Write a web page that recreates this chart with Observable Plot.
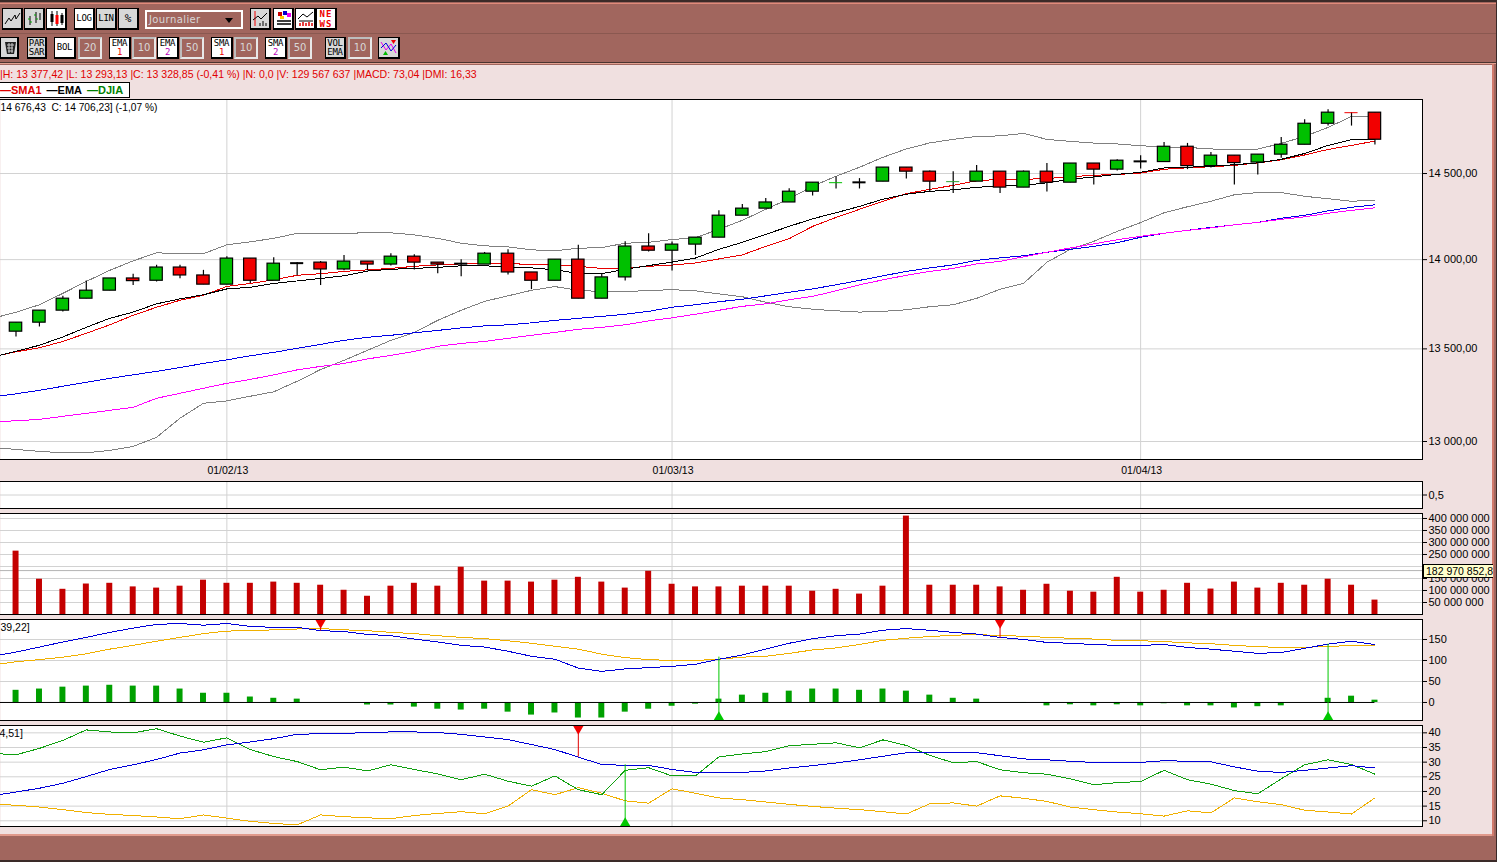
<!DOCTYPE html>
<html><head><meta charset="utf-8">
<script src="https://cdn.jsdelivr.net/npm/d3@7"></script>
<script src="https://cdn.jsdelivr.net/npm/@observablehq/plot@0.6"></script>
<style>
html,body{margin:0;padding:0;background:#f0e0e0;overflow:hidden}
#page{position:relative;width:1497px;height:862px;overflow:hidden;font-family:"Liberation Sans",Arial,sans-serif}
.abs{position:absolute;box-sizing:border-box}
.b{position:absolute;box-sizing:border-box;border:1px solid #000;border-right-width:2px;border-bottom-width:2px;background:#d8d8d8;font:9px/9px "DejaVu Sans Mono",monospace;color:#000;text-align:center;display:flex;flex-direction:column;justify-content:center;align-items:center;letter-spacing:-.3px}
.b.w{background:#fff}
.f{position:absolute;box-sizing:border-box;border:2px solid #bdbdbd;border-right-color:#e8e8e8;border-bottom-color:#e8e8e8;background:#a1665e;color:#d8d8d8;font:10px/18px "DejaVu Sans",sans-serif;text-align:center}
</style></head><body><div id="page"></div>
<script>
// ---- candles (index 0..58)
const opens=[13595,13645,13712,13779,13824,13893,13880,13955,13910,13858,14006,13880,13980,13983,13944,13989,13972,14017,13983,13977,13972,14034,13927,13880,14000,13779,13899,14075,14051,14086,14126,14253,14294,14330,14393,14446,14448,14452,14535,14511,14452,14452,14511,14417,14511,14446,14559,14523,14572,14568,14659,14544,14606,14565,14612,14671,14797,14864,14864];
const closes=[13645,13712,13779,13824,13893,13878,13955,13910,13858,14006,13880,13977,13980,13944,13989,13972,14017,13983,13972,13977,14034,13927,13880,14000,13779,13899,14075,14051,14086,14126,14253,14294,14330,14393,14446,14446,14448,14535,14511,14452,14452,14511,14417,14511,14446,14559,14523,14576,14572,14659,14544,14606,14562,14612,14671,14797,14864,14864,14701];
const highs=[13645,13712,13792,13878,13893,13917,13968,13968,13939,14017,14006,14011,13983,13989,14023,13989,14034,14028,13983,14000,14041,14057,13927,14000,14082,13921,14103,14149,14101,14126,14282,14318,14353,14411,14446,14480,14470,14535,14535,14515,14511,14547,14511,14515,14559,14559,14559,14581,14606,14685,14679,14625,14606,14612,14715,14821,14881,14864,14864];
const lows=[13566,13621,13704,13779,13824,13853,13873,13891,13858,13858,13864,13880,13908,13853,13937,13936,13964,13941,13919,13902,13972,13913,13830,13880,13779,13779,13878,14043,13936,14024,14126,14253,14294,14330,14368,14409,14409,14452,14468,14393,14382,14452,14382,14417,14391,14446,14432,14515,14527,14568,14523,14533,14432,14491,14590,14671,14783,14783,14669];
const flatCandles=[[12,"#000",2],[19,"#000",2],[35,"#00c000",1],[36,"#000",2],[40,"#30a030",1],[48,"#000",2],[57,"#f00000",1]];
// ---- price-panel lines (index -1..58)
const ema=[13454,13487,13520,13566,13619,13669,13704,13750,13778,13801,13834,13843,13865,13879,13893,13908,13935,13945,13950,13956,13965,13965,13958,13953,13942,13922,13920,13945,13966,13986,14009,14059,14099,14145,14191,14235,14270,14307,14349,14378,14395,14404,14419,14426,14430,14445,14466,14480,14495,14507,14533,14537,14543,14552,14563,14584,14619,14667,14701,14701];
const sma1=[13456,13484,13506,13541,13586,13633,13686,13731,13770,13798,13848,13865,13885,13911,13920,13933,13942,13950,13962,13970,13976,13979,13979,13971,13970,13962,13950,13952,13962,13969,13981,14004,14027,14076,14120,14191,14243,14290,14337,14381,14407,14430,14457,14466,14466,14470,14481,14490,14494,14503,14525,14534,14540,14548,14563,14581,14610,14643,14667,14693];
const bollUp=[13669,13703,13745,13809,13876,13939,13993,14039,14034,14034,14085,14102,14122,14151,14149,14151,14154,14154,14142,14122,14094,14079,14073,14056,14051,14065,14069,14094,14099,14115,14126,14174,14226,14290,14352,14425,14484,14537,14596,14646,14682,14703,14721,14724,14739,14703,14691,14681,14676,14665,14658,14655,14646,14641,14645,14679,14721,14775,14841,14845];
const bollLow=[12969,12958,12948,12940,12940,12953,12974,13022,13124,13204,13217,13242,13266,13323,13387,13437,13492,13547,13591,13658,13714,13764,13795,13826,13847,13826,13819,13820,13824,13830,13823,13806,13790,13759,13734,13720,13711,13704,13708,13717,13734,13745,13781,13832,13865,13985,14059,14105,14162,14213,14270,14305,14337,14375,14388,14388,14366,14352,14337,14343];
const ema50=[13238,13255,13274,13296,13317,13339,13358,13377,13398,13420,13440,13462,13481,13503,13525,13547,13564,13575,13589,13602,13616,13627,13633,13644,13658,13669,13680,13692,13708,13731,13745,13762,13776,13795,13815,13834,13857,13882,13908,13933,13953,13970,13996,14010,14022,14042,14059,14076,14097,14128,14151,14168,14185,14200,14214,14238,14255,14281,14302,14316];
const sma50=[13105,13110,13118,13134,13150,13166,13182,13231,13258,13285,13312,13333,13358,13385,13404,13420,13445,13464,13486,13514,13530,13541,13558,13575,13591,13608,13619,13633,13655,13672,13692,13714,13736,13750,13773,13792,13823,13857,13885,13911,13933,13950,13976,13990,14016,14042,14067,14090,14114,14134,14151,14168,14182,14200,14214,14232,14246,14267,14284,14299];
// ---- volume, millions (index 0..58)
const volumes=[264,147,105,127,130,115,110,118,143,130,130,135,130,122,101,76,118,130,118,197,139,139,135,143,155,135,110,180,126,115,115,118,118,118,97,105,85,118,410,122,122,122,115,101,126,97,93,155,93,101,130,106,135,110,130,122,147,122,60];
const volumeMarker=182.97;
// ---- MACD (index -1..58 for the lines, 0..58 for the bars)
const macd=[110,120,132,144,155,167,177,186,188,184,188,181,179,179,171,169,162,159,151,144,136,132,122,110,103,82,74,80,83,86,91,103,113,127,141,152,159,163,172,176,172,167,163,155,150,143,141,138,136,136,138,131,127,122,117,119,129,139,146,138];
const macdSignal=[89,97,102,108,116,127,136,146,155,164,170,171,173,175,176,173,171,167,164,159,155,152,147,141,134,127,115,107,102,100,100,103,108,110,117,125,130,138,148,153,157,160,162,159,158,155,153,151,148,147,145,142,140,136,133,131,131,134,135,136];
const macdHist=[29,32,36.5,39,41,39,39,32,22,22,13,10,8,0,0,-6,-6,-11,-16,-18,-16,-23,-30,-25,-37,-37,-23,-16,-9,-4,8,17.5,22,27,32,32,29,32,27,17.5,10,8,0,-2,-8,-5.5,-8,-5.5,-8,-3,-8,-8,-13,-10,-8,0,10,15,5.5];
// ---- DMI (index -1..58)
const adx=[18.6,19.8,21.1,22.8,25.1,27.5,29.1,30.9,33.1,34.2,35.9,36.9,38.0,39.5,39.7,39.8,40.1,40.3,40.3,40.1,39.5,38.6,37.7,36.0,34.3,31.7,29.2,28.9,28.9,27.5,26.5,26.4,26.5,27.0,28.0,28.8,29.7,30.8,32.0,33.2,33.2,33.2,33.2,32.2,31.1,30.8,30.3,29.9,29.9,29.9,30.5,30.3,30.1,28.4,26.9,26.5,27.2,28.0,28.8,28.0];
const diPlus=[33.0,32.5,34.7,37.4,41.0,40.3,40.0,41.4,38.9,36.8,38.3,34.3,31.9,30.2,27.4,28.3,27.0,29.1,27.5,26.0,24.0,25.9,23.5,21.8,25.3,20.6,18.9,27.2,28.1,25.3,25.3,31.8,32.8,33.6,35.6,36.1,36.6,34.9,37.6,35.7,32.3,29.8,30.2,27.4,26.4,25.9,24.3,22.3,23.0,23.4,27.2,24.0,22.5,20.3,19.2,24.3,29.1,30.8,29.2,25.9];
const diMinus=[15.7,15.3,14.7,13.8,12.8,12.2,11.8,11.3,10.7,12.0,10.9,9.8,9.1,8.6,12.0,11.4,11.0,10.7,11.8,12.5,13.1,12.4,15.0,20.6,18.9,21.3,19.4,16.8,16.0,20.9,19.4,17.8,17.2,16.4,15.6,14.9,14.3,13.8,13.1,12.3,15.8,16.1,15.0,18.5,17.7,16.6,14.7,13.8,13.0,12.4,11.6,13.4,12.7,17.8,16.5,15.5,13.6,13.0,12.3,17.8];
// ---- signals: [index, level where the arrow's stem ends]
const macdSell=[[13,170],[42,153]];
const macdBuy=[[30,108],[56,139]];
const dmiSell=[[24,31.7]];
const dmiBuy=[[26,29.1]];
// ---- ticks and labels
const dateTicks=[9,28,48];
const dateLabels=["01/02/13","01/03/13","01/04/13"];
const priceTicks=[13000,13500,14000,14500];
const volumeTicks=[50,100,150,200,250,300,350,400];
const volumeLabels=[50,100,150,250,300,350,400];
const macdTicks=[0,50,100,150];
const dmiTicks=[10,15,20,25,30,35,40];
const infoLine="|H: 13 377,42 |L: 13 293,13 |C: 13 328,85 (-0,41 %) |N: 0,0 |V: 129 567 637 |MACD: 73,04 |DMI: 16,33";

const candles=opens.map((o,i)=>({i,o,c:closes[i],h:highs[i],l:lows[i],v:volumes[i],m:macdHist[i]}));
const flatIdx=new Set(flatCandles.map(d=>d[0]));
const bodies=candles.filter(d=>!flatIdx.has(d.i));
const flats=flatCandles.map(([i,color,w])=>({i,p:closes[i],color,w}));
const seq=a=>a.map((v,k)=>({i:k-1,v}));
const FONT="'Liberation Sans',Arial,sans-serif";
const W=1497,RIGHT=75;
const xDomain=[-0.6615,60.03];

function panel(top,bottom,yScale,marks,mb=2,yTicksMark=[]){
  const mt=10;
  const svg=Plot.plot({
    width:W,height:bottom-top+mt+mb,marginLeft:0,marginRight:RIGHT,marginTop:mt,marginBottom:mb,
    style:{background:"transparent",fontFamily:FONT,fontSize:"11px",position:"absolute",left:"0",top:(top-mt)+"px",overflow:"visible"},
    x:{type:"linear",domain:xDomain,axis:null},
    y:{axis:null,...yScale},
    marks:[
      Plot.frame({fill:"white",stroke:"none"}),
      Plot.ruleX(dateTicks,{stroke:"#d2d2d2",strokeWidth:1}),
      ...marks,
      Plot.frame({anchor:"top",stroke:"#000",strokeWidth:1}),
      Plot.frame({anchor:"bottom",stroke:"#000",strokeWidth:1}),
      Plot.frame({anchor:"right",stroke:"#000",strokeWidth:1}),
      ...yTicksMark
    ]});
  document.getElementById("page").appendChild(svg);
}
const grid=t=>Plot.gridY(t,{stroke:"#d2d2d2",strokeOpacity:1,strokeWidth:1});
const axis=(t,fmt)=>Plot.axisY(t,{anchor:"right",tickSize:4,tickPadding:2,tickFormat:fmt,label:null,fontSize:11,stroke:"#000",fill:"#000",strokeOpacity:1});
const line=(a,stroke)=>Plot.line(seq(a),{x:"i",y:"v",stroke,strokeWidth:1,clip:true,curve:"linear",shapeRendering:"crispEdges"});
const fmtPrice=d=>d3.format(",.2f")(d).replace(/,/g," ").replace(".",",");

// --- price panel
panel(99,459,{type:"log",domain:[12905,14944]},[
  grid(priceTicks),
  line(bollUp,"#808080"),line(bollLow,"#808080"),
  line(ema50,"#0000e6"),line(sma50,"#ff00ff"),
  line(sma1,"#e60000"),line(ema,"#000"),
  Plot.ruleX(candles,{x:"i",y1:"l",y2:"h",stroke:"#000",strokeWidth:1.2}),
  Plot.rect(bodies,{x1:d=>d.i-.265,x2:d=>d.i+.265,y1:"o",y2:"c",fill:d=>d.c>=d.o?"#00c000":"#f20000",stroke:"#000",strokeWidth:1.2}),
  Plot.ruleY(flats,{y:"p",x1:d=>d.i-.28,x2:d=>d.i+.28,stroke:"color",strokeWidth:"w"}),
  Plot.text(["14 676,43\u00a0\u00a0C: 14 706,23] (-1,07 %)"],{frameAnchor:"top-left",dx:0,dy:4,textAnchor:"start",fill:"#000",fontSize:10.2}),
  Plot.text(dateTicks.map((t,k)=>({t,s:dateLabels[k]})),{x:"t",frameAnchor:"bottom",text:"s",dx:1,dy:14,fill:"#000",fontSize:10.5,clip:false})
],21,[axis(priceTicks,fmtPrice)]);

// --- empty panel
panel(481,508,{domain:[0,1]},[grid([0.5])],2,[axis([0.5],()=>"0,5")]);

// --- volume
panel(513,614,{domain:[0,420.8]},[
  grid(volumeTicks),
  Plot.ruleY([volumeMarker],{stroke:"#b4b4b4",strokeWidth:1}),
  Plot.rectY(candles,{x1:d=>d.i-.125,x2:d=>d.i+.13,y:"v",fill:"#c40000"})
],2,[axis(volumeLabels,d=>d+" 000 000")]);

// --- MACD
const mTop=197.6,mBot=-42.9;
panel(619,720,{domain:[mBot,mTop]},[
  grid(macdTicks),
  Plot.rectY(candles.filter(d=>d.m!==0),{x1:d=>d.i-.125,x2:d=>d.i+.13,y1:0,y2:"m",fill:"#00a000"}),
  Plot.ruleY([0],{x1:xDomain[0],x2:58,stroke:"#000",strokeWidth:1}),
  line(macdSignal,"#f0b000"),line(macd,"#0000d8"),
  Plot.ruleX(macdSell,{x:d=>d[0],y1:mTop,y2:d=>d[1],stroke:"#e00000",strokeWidth:1}),
  Plot.ruleX(macdBuy,{x:d=>d[0],y1:mBot,y2:d=>d[1],stroke:"#00c800",strokeWidth:1}),
  Plot.dot(macdSell,{x:d=>d[0],y:mTop,dy:3,r:4,symbol:"triangle",rotate:180,fill:"#f00000",stroke:"none"}),
  Plot.dot(macdBuy,{x:d=>d[0],y:mBot,dy:-3,r:4,symbol:"triangle",fill:"#00c800",stroke:"none"}),
  Plot.text(["39,22]"],{frameAnchor:"top-left",dy:4,textAnchor:"start",fill:"#000",fontSize:10.5})
],2,[axis(macdTicks,d=>String(d))]);

// --- DMI
const dTop=42.5,dBot=8.05;
panel(725,826,{domain:[dBot,dTop]},[
  grid(dmiTicks),
  line(diMinus,"#f0b000"),line(diPlus,"#10a010"),line(adx,"#0000d8"),
  Plot.ruleX(dmiSell,{x:d=>d[0],y1:dTop,y2:d=>d[1],stroke:"#e00000",strokeWidth:1}),
  Plot.ruleX(dmiBuy,{x:d=>d[0],y1:dBot,y2:d=>d[1],stroke:"#00c800",strokeWidth:1}),
  Plot.dot(dmiSell,{x:d=>d[0],y:dTop,dy:3,r:4,symbol:"triangle",rotate:180,fill:"#f00000",stroke:"none"}),
  Plot.dot(dmiBuy,{x:d=>d[0],y:dBot,dy:-3,r:4,symbol:"triangle",fill:"#00c800",stroke:"none"}),
  Plot.text(["4,51]"],{frameAnchor:"top-left",dx:-1,dy:4,textAnchor:"start",fill:"#000",fontSize:10.5})
],2,[axis(dmiTicks,d=>String(d))]);

// --- application chrome (HTML)
const page=document.getElementById("page");
function add(html){page.insertAdjacentHTML("beforeend",html);}
function box(x,y,w,h,bg,extra=""){add(`<div class="abs" style="left:${x}px;top:${y}px;width:${w}px;height:${h}px;background:${bg};${extra}"></div>`);}
const BR="#a1665e";
box(0,0,1497,65,BR);
box(0,0,1497,2,"#3a2a28");
box(0,3,1497,1,"#e08a7a");
box(0,33,1497,1,"#8a5850");
box(0,62,1497,1,"#4a3430");
box(0,63,1497,1,"#e0a090");
box(0,834,1497,2,"#e09a8c");
box(0,836,1497,26,BR);
box(0,860,1497,2,"#3a2a28");
box(1492,64,2,772,"#d07a6c");
box(1494,64,3,772,BR);
box(1496,0,1,862,"#3a2a28");

function btn(x,y,w,h,white,inner){add(`<div class="b${white?" w":""}" style="left:${x}px;top:${y}px;width:${w}px;height:${h}px">${inner}</div>`);}
function fld(x,y,w,h,t){add(`<div class="f" style="left:${x}px;top:${y}px;width:${w}px;height:${h}px">${t}</div>`);}
const ico=(s)=>`<svg width="17" height="17" viewBox="0 0 17 17">${s}</svg>`;
btn(2,8,21,22,false,ico('<polyline points="1,14 5,8 7,11 11,5 12,9 16,3" fill="none" stroke="#000"/>'));
btn(24,8,21,22,false,ico('<path d="M4 6V15M10 2V13M14 3V10" stroke="#000" fill="none"/><path d="M2 9H4M4 12H6M8 5H10M10 9H12" stroke="#0a0" fill="none"/>'));
btn(46,8,21,22,true,ico('<path d="M4 1V16M9 1V16M14 3V15" stroke="#000"/><rect x="2.5" y="4" width="3" height="8" fill="#000"/><rect x="7.5" y="5" width="3" height="9" fill="#f00"/><rect x="12.5" y="5" width="3" height="8" fill="#000"/>'));
btn(74,8,21,22,true,"LOG");btn(96,8,21,22,false,"LIN");btn(118,8,21,22,false,'<span style="font-size:11px">%</span>');
add(`<div class="abs" style="left:145px;top:10px;width:98px;height:19px;border:2px solid #fff;background:${BR};color:#d8d8d8;font:10px/15px 'DejaVu Sans',sans-serif;padding-left:2px;letter-spacing:.4px">Journalier<span style="position:absolute;right:8px;top:6px;width:0;height:0;border:4px solid transparent;border-top:5px solid #000"></span></div>`);
btn(250,8,21,22,false,ico('<path d="M3 1V16" stroke="#e00"/><polyline points="1,10 6,6 9,9 15,3" fill="none" stroke="#000"/><path d="M8 16V13M11 16V11M14 16V13" stroke="#000"/>'));
btn(273,8,21,22,true,ico('<rect x="3" y="2" width="4" height="4" fill="#c00"/><rect x="8" y="1" width="4" height="4" fill="#00c"/><rect x="12" y="3" width="4" height="4" fill="#e0e"/><rect x="5" y="6" width="4" height="3" fill="#fc0"/><path d="M2 11H16M2 14H16" stroke="#000" stroke-width="1.5"/>'));
btn(295,8,21,22,true,ico('<polyline points="1,9 6,4 10,7 16,2" fill="none" stroke="#000"/><path d="M2 11H16" stroke="#000"/><path d="M3 16V13M6 16V12M9 16V13M12 16V12M15 16V13" stroke="#d00" stroke-width="1.5"/>'));
btn(316,8,21,22,true,'<span style="color:#e00;font-weight:bold;line-height:10px;letter-spacing:1px">NE<br>WS</span>');
btn(0,37,19,22,false,ico('<path d="M4 3H15L13 15H6Z" fill="#222"/><path d="M6 6H13M6 9H12M7 12H12M8 4V14M11 4V14" stroke="#ccc"/>'));
btn(27,37,20,22,false,"PAR<br>SAR");
btn(54,37,22,22,true,"BOL");fld(78,37,24,22,"20");
btn(109,37,22,22,true,'EMA<br><span style="color:#e00">1</span>');fld(132,37,24,22,"10");
btn(157,37,22,22,true,'EMA<br><span style="color:#b0b">2</span>');fld(180,37,24,22,"50");
btn(211,37,22,22,true,'SMA<br><span style="color:#e00">1</span>');fld(234,37,24,22,"10");
btn(265,37,22,22,true,'SMA<br><span style="color:#b0b">2</span>');fld(288,37,24,22,"50");
btn(325,37,21,22,false,"VOL<br>EMA");fld(348,37,24,22,"10");
btn(378,37,22,22,false,ico('<polyline points="1,3 6,11 11,5 16,14" fill="none" stroke="#e0e"/><polyline points="1,9 6,4 11,12 16,6" fill="none" stroke="#00d"/><path d="M11 1H16L13.5 5Z" fill="#e00"/><path d="M3 16H8L5.5 12Z" fill="#0b0"/>'));

add(`<div class="abs" style="left:0;top:68px;white-space:nowrap;color:#e00000;font:10.55px/13px ${FONT}">${infoLine}</div>`);
add(`<div class="abs" style="left:-1px;top:82px;width:131px;height:16px;border:1px solid #000;background:#fff;font:bold 11px/14px ${FONT};white-space:nowrap"><span style="color:#e00000">&#8212;SMA1</span><span style="color:#000;margin-left:5px">&#8212;EMA</span><span style="color:#008000;margin-left:5px">&#8212;DJIA</span></div>`);
add(`<div class="abs" style="left:1423px;top:564px;width:70px;height:14px;background:#ffffcc;border-top:1px solid #000;border-bottom:1px solid #000;border-left:1px solid #000;overflow:hidden;white-space:nowrap;font:10.5px/12px ${FONT};padding-left:2px;color:#000">182 970 852,8</div>`);
</script></body></html>
